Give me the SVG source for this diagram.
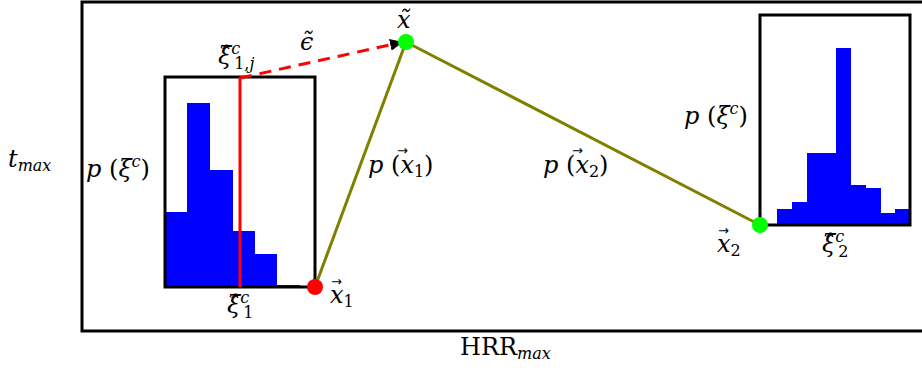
<svg xmlns="http://www.w3.org/2000/svg" width="922" height="376" viewBox="0 0 922 376">
<style>
.m{font-family:"DejaVu Serif","Liberation Serif",serif;font-style:italic;font-size:24px;fill:#000}
.u{font-family:"DejaVu Serif","Liberation Serif",serif;font-style:normal;font-size:24px;fill:#000}
.s{font-size:16px}
.n{font-style:normal}
.vec{font-family:"DejaVu Sans",sans-serif;font-size:13px;fill:#000}
.box{fill:none;stroke:#000;stroke-width:3}
.bar{fill:#0000ff}
.olive{stroke:#808000;stroke-width:3;fill:none}
</style>
<defs>
<marker id="ah" markerUnits="userSpaceOnUse" markerWidth="14" markerHeight="12" refX="13" refY="6" orient="auto">
<path d="M0,0 L13,6 L0,12 z" fill="#000"/>
</marker>
</defs>
<rect width="922" height="376" fill="#fff"/>
<g id="frame">
<rect x="82" y="2" width="845" height="329" class="box"/>
</g>
<g id="hist1">
<rect class="bar" x="165" y="212" width="22" height="75"/>
<rect class="bar" x="187" y="103" width="23" height="184"/>
<rect class="bar" x="210" y="170" width="23" height="117"/>
<rect class="bar" x="233" y="231" width="22" height="56"/>
<rect class="bar" x="255" y="254" width="22" height="33"/>
<rect class="bar" x="277" y="285" width="23" height="2"/>
<rect x="165" y="77" width="150" height="210" class="box"/>
<line x1="240" y1="77" x2="240" y2="287" stroke="#ff0000" stroke-width="3"/>
</g>
<g id="hist2">
<rect class="bar" x="777" y="209" width="15" height="16"/>
<rect class="bar" x="792" y="202" width="15" height="23"/>
<rect class="bar" x="807" y="153" width="29" height="72"/>
<rect class="bar" x="836" y="48" width="15" height="177"/>
<rect class="bar" x="851" y="185" width="15" height="40"/>
<rect class="bar" x="866" y="188" width="15" height="37"/>
<rect class="bar" x="881" y="213" width="14" height="12"/>
<rect class="bar" x="895" y="209" width="15" height="16"/>
<rect x="760" y="15" width="150" height="210" class="box"/>
</g>
<g id="connectors">
<line x1="315" y1="287" x2="406" y2="42" class="olive"/>
<line x1="406" y1="42" x2="760" y2="225" class="olive"/>
<line x1="240" y1="78" x2="403" y2="42" stroke="#ff0000" stroke-width="3" stroke-dasharray="12,8" marker-end="url(#ah)"/>
</g>
<g id="x1"><circle cx="315" cy="287" r="8" fill="#ff0000"/></g>
<g id="xt"><circle cx="406" cy="42" r="8" fill="#00ff00"/></g>
<g id="x2"><circle cx="760" cy="225" r="8" fill="#00ff00"/></g>
<g id="labels">
<text class="m" x="8" y="167">t<tspan class="s" dy="4">max</tspan></text>
<text class="m" x="86" y="177">p <tspan class="n">(</tspan>ξ<tspan class="s" dy="-10">c</tspan><tspan dy="10" class="n">)</tspan></text>
<text class="m" x="684" y="124">p <tspan class="n">(</tspan>ξ<tspan class="s" dy="-10">c</tspan><tspan dy="10" class="n">)</tspan></text>
<text class="m" x="368" y="173">p <tspan class="n">(</tspan>x<tspan class="s n" dy="4">1</tspan><tspan dy="-4" class="n">)</tspan></text>
<text class="vec" x="397" y="155">→</text>
<text class="m" x="543" y="173">p <tspan class="n">(</tspan>x<tspan class="s n" dy="4">2</tspan><tspan dy="-4" class="n">)</tspan></text>
<text class="vec" x="572" y="155">→</text>
<text class="m" x="397" y="28">x̃</text>
<text class="m" x="300" y="50">ϵ̃</text>
<text class="m" x="218" y="64">ξ̂<tspan class="s" dy="-10">c</tspan><tspan class="s n" dx="-6" dy="15">1,</tspan><tspan class="s">j</tspan></text>
<text class="m" x="717" y="252">x<tspan class="s n" dy="4">2</tspan></text>
<text class="vec" x="718" y="235">→</text>
<text class="m" x="822" y="252">ξ̂<tspan class="s" dy="-10">c</tspan><tspan class="s n" dx="-6" dy="15">2</tspan></text>
<text class="m" x="227" y="313">ξ̂<tspan class="s" dy="-10">c</tspan><tspan class="s n" dx="-6" dy="15">1</tspan></text>
<text class="m" x="330" y="303">x<tspan class="s n" dy="4">1</tspan></text>
<text class="vec" x="331" y="286">→</text>
<text class="u" x="460" y="355">HRR<tspan class="m s" dy="4">max</tspan></text>
</g>
</svg>
